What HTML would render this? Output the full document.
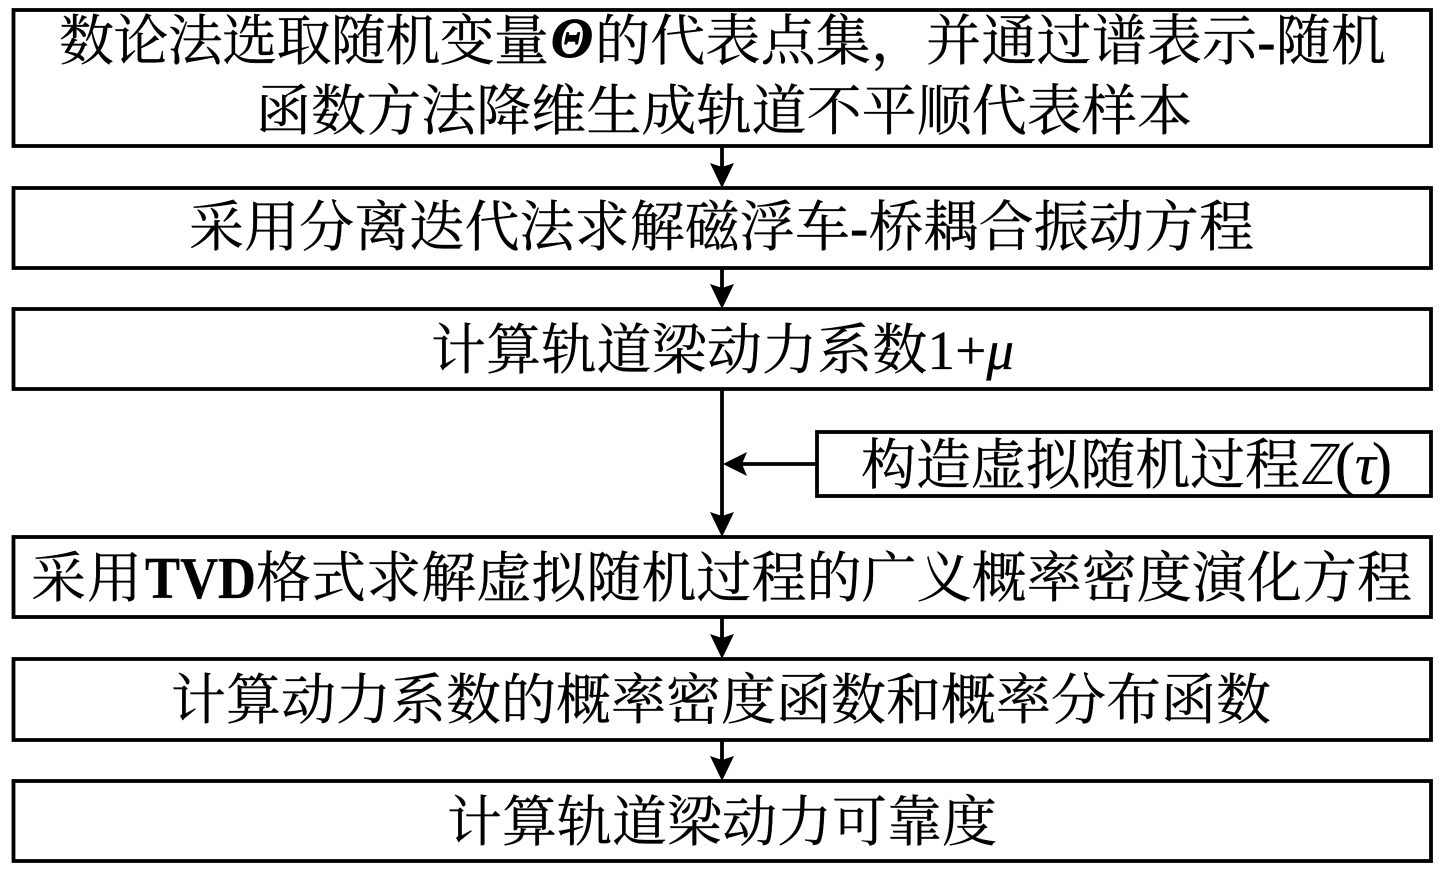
<!DOCTYPE html>
<html><head><meta charset="utf-8"><style>
html,body{margin:0;padding:0;background:#fff}
svg{display:block}
text{font-family:"Liberation Serif","Noto Serif CJK SC",serif;font-size:55px;fill:#000;stroke:#000;stroke-width:.3}
.b{fill:none;stroke:#000;stroke-width:3.8}
.l{stroke:#000;stroke-width:3.8;fill:none}
</style></head><body>
<svg width="1443" height="871" viewBox="0 0 1443 871" xmlns="http://www.w3.org/2000/svg">
<rect class="b" x="13.5" y="10" width="1417.5" height="136"/>
<rect class="b" x="13.5" y="188" width="1417.5" height="80"/>
<rect class="b" x="13.5" y="309" width="1417.5" height="80"/>
<rect class="b" x="817" y="432" width="614" height="64"/>
<rect class="b" x="13.5" y="537" width="1417.5" height="80"/>
<rect class="b" x="13.5" y="659" width="1417.5" height="81"/>
<rect class="b" x="13.5" y="781" width="1417.5" height="80"/>
<path class="l" d="M722 146V170M722 268V292M722 389V520M817 464H740M722 617V642M722 740V764"/>
<path d="M710 163L722 188L734 163L722 167Z M710 284L722 309L734 284L722 288Z M710 512L722 537L734 512L722 516Z M710 634L722 659L734 634L722 638Z M710 756L722 781L734 756L722 760Z M723 464L747 452L742 464L747 476Z"/>
<text x="59" y="60" textLength="490" lengthAdjust="spacing">数论法选取随机变量</text>
<text x="551" y="57" textLength="42" lengthAdjust="spacingAndGlyphs" font-weight="bold" font-style="italic" style="font-size:56px;stroke-width:1">Θ</text>
<text x="595" y="60" textLength="791" lengthAdjust="spacing">的代表点集，并通过谱表示<tspan font-weight="bold">-</tspan>随机</text>
<text x="256" y="130" textLength="936" lengthAdjust="spacing">函数方法降维生成轨道不平顺代表样本</text>
<text x="189" y="246" textLength="1065" lengthAdjust="spacing">采用分离迭代法求解磁浮车<tspan font-weight="bold">-</tspan>桥耦合振动方程</text>
<text x="431" y="369" textLength="583" lengthAdjust="spacing">计算轨道梁动力系数1+<tspan font-style="italic">μ</tspan></text>
<text x="861" y="484" textLength="439" lengthAdjust="spacing">构造虚拟随机过程</text>
<text x="1300" y="484" textLength="34" lengthAdjust="spacingAndGlyphs" font-style="italic" style="stroke-width:0">ℤ</text>
<text x="1335" y="484" style="font-size:60px">(</text>
<text x="1355" y="484" font-style="italic" style="font-size:58px">τ</text>
<text x="1372" y="484" style="font-size:60px">)</text>
<text x="31" y="597" textLength="111" lengthAdjust="spacing">采用</text>
<text x="145" y="598" textLength="111" lengthAdjust="spacingAndGlyphs" font-weight="bold" style="font-size:59px">TVD</text>
<text x="256" y="597" textLength="1156" lengthAdjust="spacing">格式求解虚拟随机过程的广义概率密度演化方程</text>
<text x="171" y="719" textLength="1100" lengthAdjust="spacing">计算动力系数的概率密度函数和概率分布函数</text>
<text x="447" y="841" textLength="550" lengthAdjust="spacing">计算轨道梁动力可靠度</text>
</svg>
</body></html>
